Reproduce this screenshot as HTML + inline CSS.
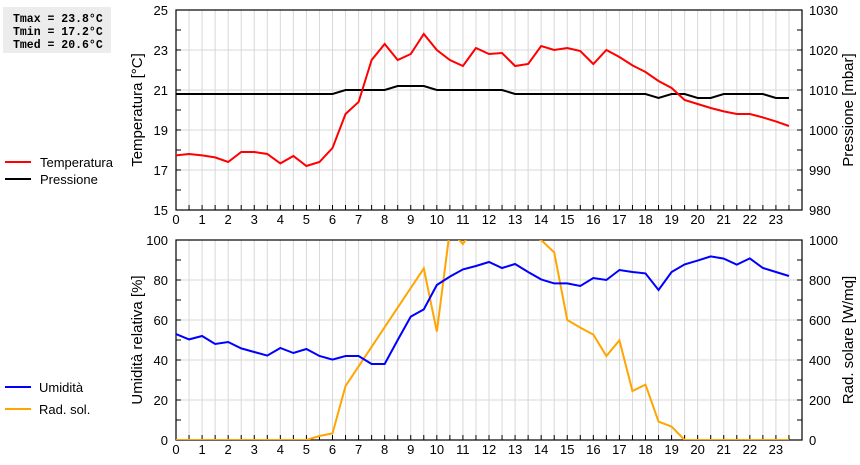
<!DOCTYPE html>
<html><head><meta charset="utf-8"><style>
body{margin:0;background:#fff;width:860px;height:460px;overflow:hidden;font-family:"Liberation Sans",sans-serif}
svg text{font-family:"Liberation Sans",sans-serif}
</style></head><body>
<svg id="c" width="860" height="460" xmlns="http://www.w3.org/2000/svg">
<rect x="3" y="7" width="108" height="46" fill="#ececec"/>
<g font-family="Liberation Mono, monospace" font-weight="bold" font-size="11.5">
<text x="13" y="22" style="font-family:'Liberation Mono',monospace">Tmax = 23.8°C</text>
<text x="13" y="35" style="font-family:'Liberation Mono',monospace">Tmin = 17.2°C</text>
<text x="13" y="48" style="font-family:'Liberation Mono',monospace">Tmed = 20.6°C</text>
</g>
<g>
<line x1="5" y1="162" x2="31" y2="162" stroke="#f00" stroke-width="2"/><text x="40" y="167" font-size="13">Temperatura</text>
<line x1="5" y1="179" x2="31" y2="179" stroke="#000" stroke-width="2"/><text x="40" y="184" font-size="13">Pressione</text>
</g>
<g>
<line x1="5" y1="387" x2="31" y2="387" stroke="#00f" stroke-width="2"/><text x="39" y="392" font-size="13">Umidità</text>
<line x1="5" y1="409" x2="31" y2="409" stroke="#ffa500" stroke-width="2"/><text x="39" y="414" font-size="13">Rad. sol.</text>
</g>
<defs>
<clipPath id="ct"><rect x="176" y="10" width="626" height="200"/></clipPath>
<clipPath id="cb"><rect x="176" y="240" width="626" height="200"/></clipPath>
</defs>
<g id="g"></g>
</svg>
<script>
const hours = [];
for (let i = 0; i < 48; i++) hours.push(i / 2);
const temperature = [17.73,17.8,17.73,17.63,17.4,17.9,17.9,17.8,17.33,17.7,17.2,17.4,18.1,19.8,20.4,22.5,23.3,22.5,22.8,23.8,23.0,22.5,22.2,23.1,22.8,22.85,22.2,22.3,23.2,23.0,23.1,22.95,22.3,23.0,22.65,22.23,21.9,21.45,21.1,20.5,20.3,20.1,19.93,19.8,19.8,19.63,19.43,19.2];
const pressure = [1009,1009,1009,1009,1009,1009,1009,1009,1009,1009,1009,1009,1009,1010,1010,1010,1010,1011,1011,1011,1010,1010,1010,1010,1010,1010,1009,1009,1009,1009,1009,1009,1009,1009,1009,1009,1009,1008,1009,1009,1008,1008,1009,1009,1009,1009,1008,1008];
const humidity = [53,50.3,52,48,49,45.8,44,42.2,46,43.5,45.5,42,40.2,42,42,38,38,50,61.7,65.3,77.5,81.7,85.3,87,89,86,88,84,80.3,78.3,78.3,77,81,80,85,84,83.3,75,84,87.8,89.7,91.8,90.7,87.7,90.8,86,84,82];
const radiation = [0,0,0,0,0,0,0,0,0,0,0,20,33,270,368,466,564,662,760,858,542,1050,980,1080,1080,1080,1080,1030,1000,938,600,562,527,420,498,245,277,92,67,0,0,0,0,0,0,0,0,0];
const xTicks = [0,1,2,3,4,5,6,7,8,9,10,11,12,13,14,15,16,17,18,19,20,21,22,23];
const tempTicks = [15,17,19,21,23,25];
const presTicks = [980,990,1000,1010,1020,1030];
const humTicks = [0,20,40,60,80,100];
const radTicks = [0,200,400,600,800,1000];

const NS = "http://www.w3.org/2000/svg";
const G = document.getElementById('g');
const L = 176, R = 802;
const x = h => L + h * (R - L) / 24;
function lin(d0, d1, p0, p1) { return v => p0 + (v - d0) * (p1 - p0) / (d1 - d0); }
const yT = lin(15, 25, 210, 10), yP = lin(980, 1030, 210, 10);
const yH = lin(0, 100, 440, 240), yR = lin(0, 1000, 440, 240);
function el(tag, attrs, parent) {
  const e = document.createElementNS(NS, tag);
  for (const k in attrs) e.setAttribute(k, attrs[k]);
  (parent || G).appendChild(e);
  return e;
}
function panel(top, bot, yl, lt, yr, rt, name, titleL, titleR) {
  const g = el('g', {});
  
  
  for (let i = 1; i < 48; i++) {
    const xx = x(i / 2);
    el('line', {x1: xx, y1: top, x2: xx, y2: bot, stroke: '#d8d8d8', 'stroke-width': 1}, g);
  }
  lt.forEach((v, i) => {
    const yy = yl(v);
    if (i > 0 && i < lt.length - 1) el('line', {x1: L, y1: yy, x2: R, y2: yy, stroke: '#d8d8d8'}, g);
    const t = el('text', {x: 168, y: yy + 5, 'font-size': 13, 'text-anchor': 'end'}, g);
    t.textContent = v;
  });
  rt.forEach(v => {
    const t = el('text', {x: 809, y: yr(v) + 5, 'font-size': 13}, g);
    t.textContent = v;
  });
  const step = (bot - top) / 10;
  for (let i = 1; i < 10; i++) {
    const yy = top + i * step;
    el('line', {x1: L, y1: yy, x2: L + 5, y2: yy, stroke: '#000'}, g);
    el('line', {x1: R - 5, y1: yy, x2: R, y2: yy, stroke: '#000'}, g);
  }
  for (let i = 1; i < 48; i++) {
    const xx = x(i / 2);
    el('line', {x1: xx, y1: bot - 5, x2: xx, y2: bot, stroke: '#000'}, g);
  }
  xTicks.forEach(h => {
    const t = el('text', {x: x(h), y: bot + 14, 'font-size': 13, 'text-anchor': 'middle'}, g);
    t.textContent = h;
  });
  el('rect', {x: L, y: top, width: R - L, height: bot - top, fill: 'none', stroke: '#000', 'stroke-width': 1.2}, g);
  const cy = (top + bot) / 2;
  const a = el('text', {x: 142, y: cy, 'font-size': 15, 'text-anchor': 'middle', transform: `rotate(-90 142 ${cy})`}, g);
  a.textContent = titleL;
  
  
  const b = el('text', {x: 853, y: cy, 'font-size': 15, 'text-anchor': 'middle', transform: `rotate(-90 853 ${cy})`}, g);
  b.textContent = titleR;
  
  
}
panel(10, 210, yT, tempTicks, yP, presTicks, 'top-panel', 'Temperatura [°C]', 'Pressione [mbar]');
panel(240, 440, yH, humTicks, yR, radTicks, 'bottom-panel', 'Umidità relativa [%]', 'Rad. solare [W/mq]');
function series(vals, yf, color, clip, name) {
  const p = el('polyline', {points: vals.map((v, i) => x(hours[i]) + ',' + yf(v)).join(' '), fill: 'none', stroke: color, 'stroke-width': 2, 'clip-path': 'url(#' + clip + ')'});
  
  
}
series(pressure, yP, '#000', 'ct', 'pressure-line');
series(temperature, yT, '#f00', 'ct', 'temperature-line');
series(radiation, yR, '#ffa500', 'cb', 'radiation-line');
series(humidity, yH, '#00f', 'cb', 'humidity-line');
</script>
</body></html>
